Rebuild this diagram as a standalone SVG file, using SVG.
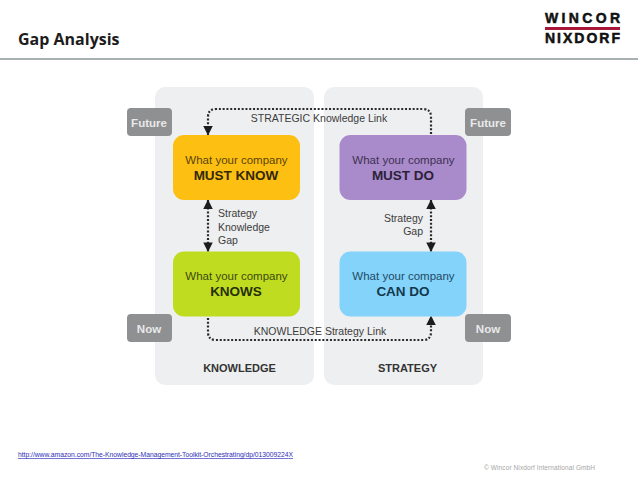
<svg xmlns="http://www.w3.org/2000/svg" width="638" height="479" viewBox="0 0 638 479">
<defs>
<marker id="arr" viewBox="0 0 10 10" refX="9.5" refY="5" markerWidth="9.5" markerHeight="9.5" markerUnits="userSpaceOnUse" orient="auto-start-reverse"><path d="M0 0L10 5L0 10Z" fill="#1c1c1c"/></marker>
</defs>
<style>
text{font-family:"Liberation Sans",Arial,sans-serif}
.panel{fill:#eeeff0}
.tag{fill:#8f9092}
.tagt{font-size:11.5px;font-weight:700;fill:#e9e9e9;text-anchor:middle}
.t1{font-size:11.5px;text-anchor:middle}
.t2{font-size:13.5px;font-weight:700;text-anchor:middle}
.lab{font-size:10.5px;fill:#3c3c3c}
.link{fill:none;stroke:#2a2a2a;stroke-width:2.2;stroke-dasharray:2 1.8}
.foot{font-size:11px;font-weight:700;fill:#333;text-anchor:middle}
.logo{font-size:14px;font-weight:700;fill:#111;stroke:#111;stroke-width:.5}
</style>
<rect width="638" height="479" fill="#fff"/>
<text x="18" y="45" style="font-family:'Open Sans','Liberation Sans',sans-serif;font-size:16px;font-weight:700" fill="#1c1c1c">Gap Analysis</text>
<rect x="0" y="58" width="638" height="2" fill="#a9b0b2"/>
<g id="logo">
<text class="logo" x="545" y="23" textLength="75" lengthAdjust="spacing">WINCOR</text>
<rect x="545" y="27" width="75" height="3" fill="#a8173a"/>
<text class="logo" x="545" y="43" textLength="75" lengthAdjust="spacing">NIXDORF</text>
</g>
<g id="panel-knowledge"><rect class="panel" x="155" y="87" width="159" height="298" rx="10"/><text class="foot" x="239.500" y="372">KNOWLEDGE</text></g>
<g id="panel-strategy"><rect class="panel" x="324" y="87" width="159" height="298" rx="10"/><text class="foot" x="407.500" y="372">STRATEGY</text></g>
<g id="tag-future-left"><rect class="tag" x="127" y="108" width="45" height="28" rx="4"/><text class="tagt" x="149" y="127">Future</text></g>
<g id="tag-future-right"><rect class="tag" x="465" y="108" width="46" height="28" rx="4"/><text class="tagt" x="488" y="127">Future</text></g>
<g id="tag-now-left"><rect class="tag" x="127" y="314" width="45" height="28" rx="4"/><text class="tagt" x="149" y="333">Now</text></g>
<g id="tag-now-right"><rect class="tag" x="465" y="314" width="46" height="28" rx="4"/><text class="tagt" x="488" y="333">Now</text></g>
<g id="connectors">
<path class="link" d="M431 134V117Q431 109 423 109H216Q208 109 208 117V135" marker-end="url(#arr)"/>
<path class="link" d="M208 318V332Q208 340 216 340H423Q431 340 431 332V316" marker-end="url(#arr)"/>
<path class="link" d="M208 200V251.500" marker-start="url(#arr)" marker-end="url(#arr)"/>
<path class="link" d="M431 200V251.500" marker-start="url(#arr)" marker-end="url(#arr)"/>
</g>
<g id="node-must-know"><rect x="173" y="135" width="127" height="65" rx="11" fill="#fdc012"/><text class="t1" x="236.500" y="163.500" fill="#5a4406">What your company</text><text class="t2" x="236" y="180" fill="#33280a">MUST KNOW</text></g>
<g id="node-must-do"><rect x="339.500" y="135" width="127" height="65" rx="11" fill="#a98bcb"/><text class="t1" x="403.500" y="163.500" fill="#3d3152">What your company</text><text class="t2" x="403" y="180" fill="#2b2238">MUST DO</text></g>
<g id="node-knows"><rect x="173" y="251.500" width="127" height="65" rx="11" fill="#c0dc20"/><text class="t1" x="236.500" y="280" fill="#3c4a10">What your company</text><text class="t2" x="236" y="296" fill="#26300a">KNOWS</text></g>
<g id="node-can-do"><rect x="339.500" y="251.500" width="127" height="65" rx="11" fill="#84d3fb"/><text class="t1" x="403.500" y="280" fill="#1f4a63">What your company</text><text class="t2" x="403" y="296" fill="#14384d">CAN DO</text></g>
<g id="labels">
<text class="lab" x="319" y="122" text-anchor="middle">STRATEGIC Knowledge Link</text>
<text class="lab" x="320" y="335" text-anchor="middle">KNOWLEDGE Strategy Link</text>
<text class="lab" x="218" y="217">Strategy</text>
<text class="lab" x="218" y="231">Knowledge</text>
<text class="lab" x="218" y="244">Gap</text>
<text class="lab" x="423" y="222" text-anchor="end">Strategy</text>
<text class="lab" x="423" y="235" text-anchor="end">Gap</text>
</g>
<text x="18" y="457" textLength="275" style="font-size:6.8px" fill="#2f2fb8" text-decoration="underline">http://www.amazon.com/The-Knowledge-Management-Toolkit-Orchestrating/dp/013009224X</text>
<text x="484" y="470" textLength="111" style="font-size:6.5px" fill="#a6a6a6">© Wincor Nixdorf International GmbH</text>
</svg>
